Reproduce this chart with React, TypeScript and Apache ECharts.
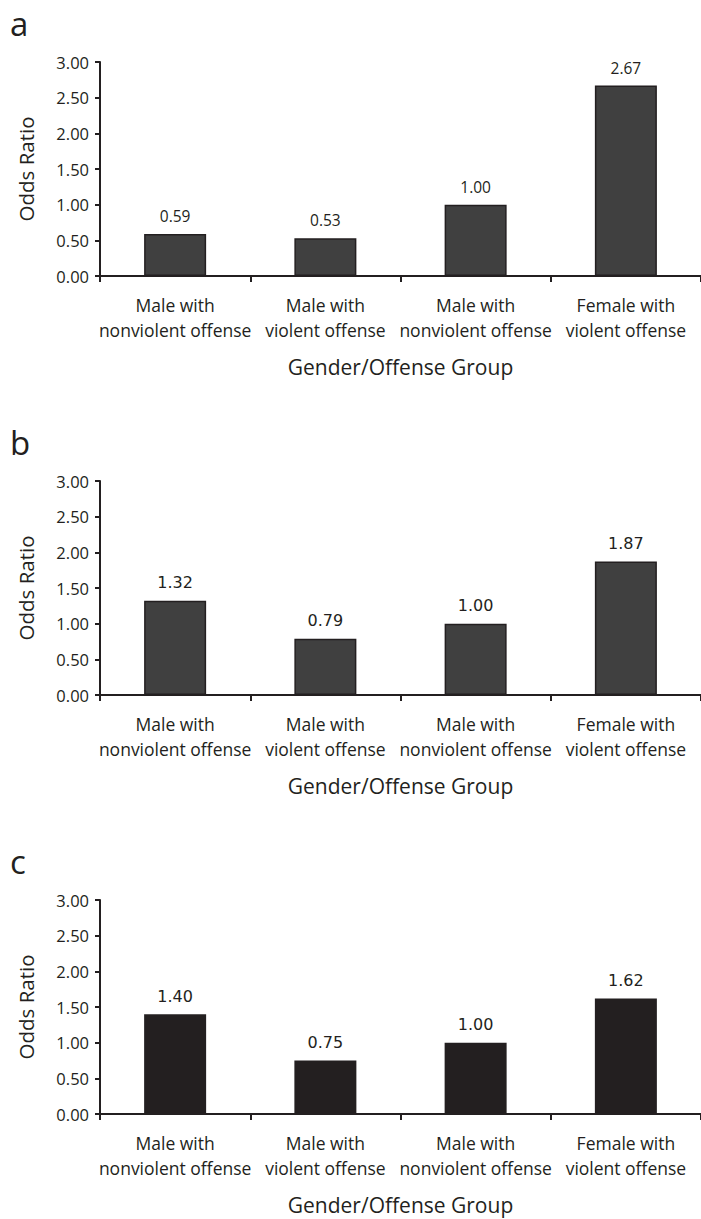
import React, { useEffect, useRef } from "react";
import * as echarts from "echarts";

const categories = [
  "Male with\nnonviolent offense",
  "Male with\nviolent offense",
  "Male with\nnonviolent offense",
  "Female with\nviolent offense",
];
const panelLetters = ["a", "b", "c"];
const valuesA = [0.59, 0.53, 1.0, 2.67];
const valuesB = [1.32, 0.79, 1.0, 1.87];
const valuesC = [1.4, 0.75, 1.0, 1.62];
const yTicks = [0, 0.5, 1, 1.5, 2, 2.5, 3];
const xAxisTitle = "Gender/Offense Group";
const yAxisTitle = "Odds Ratio";

const INK = "#231f20";
const FONT = "'Open Sans', 'Noto Sans', sans-serif";

export default function App() {
  const ref = useRef<HTMLDivElement>(null);
  useEffect(() => {
    if (!ref.current) return;
    const chart = echarts.init(ref.current, undefined, { renderer: "svg" });
    const tops = [62, 481, 900];
    const seriesData = [valuesA, valuesB, valuesC];
    const grids = tops.map((t) => ({ left: 100, top: t, width: 604, height: 214 }));
    const xAxes = tops.map((_, i) => ({
      type: "category",
      gridIndex: i,
      data: categories,
      name: xAxisTitle,
      nameLocation: "middle",
      nameGap: 80,
      nameTextStyle: { fontFamily: FONT, fontSize: 21, color: INK },
      axisLine: { lineStyle: { color: INK, width: 2 } },
      axisTick: { show: true, length: 6, lineStyle: { color: INK, width: 2 } },
      axisLabel: {
        fontFamily: FONT,
        fontSize: 17.5,
        color: INK,
        lineHeight: 25,
        margin: 16,
        interval: 0,
      },
    }));
    const yAxes = tops.map((_, i) => ({
      type: "value",
      gridIndex: i,
      min: yTicks[0],
      max: yTicks[yTicks.length - 1],
      interval: yTicks[1] - yTicks[0],
      name: yAxisTitle,
      nameLocation: "middle",
      nameGap: 64,
      nameTextStyle: { fontFamily: FONT, fontSize: 20.5, color: INK },
      splitLine: { show: false },
      axisLine: { show: true, lineStyle: { color: INK, width: 2 } },
      axisTick: { show: true, length: 5, lineStyle: { color: INK, width: 2 } },
      axisLabel: {
        fontFamily: FONT,
        fontSize: 16.5,
        color: INK,
        margin: 11,
        formatter: (v: number) => v.toFixed(2),
      },
    }));
    const series = seriesData.map((d, i) => ({
      type: "bar",
      xAxisIndex: i,
      yAxisIndex: i,
      data: d,
      barWidth: 62,
      itemStyle:
        i < 2
          ? { color: "#404040", borderColor: INK, borderWidth: 1.5 }
          : { color: INK, borderWidth: 0 },
      label: {
        show: true,
        position: "top",
        distance: 10,
        color: INK,
        fontFamily: i === 0 ? FONT : "'DejaVu Sans', sans-serif",
        fontSize: i === 0 ? 15.5 : 16,
        formatter: (p: any) => Number(p.value).toFixed(2),
      },
    }));
    const graphic = tops.map((t, i) => ({
      type: "text",
      left: 10,
      top: t - 55,
      style: {
        text: panelLetters[i],
        fontFamily: FONT,
        fontSize: 33,
        fill: INK,
      },
    }));
    chart.setOption({
      animation: false,
      backgroundColor: "#ffffff",
      grid: grids,
      xAxis: xAxes,
      yAxis: yAxes,
      series,
      graphic,
    } as any);
    return () => chart.dispose();
  }, []);
  return (
    <div
      ref={ref}
      style={{ position: "absolute", left: 0, top: 0, width: 701, height: 1219 }}
    />
  );
}
